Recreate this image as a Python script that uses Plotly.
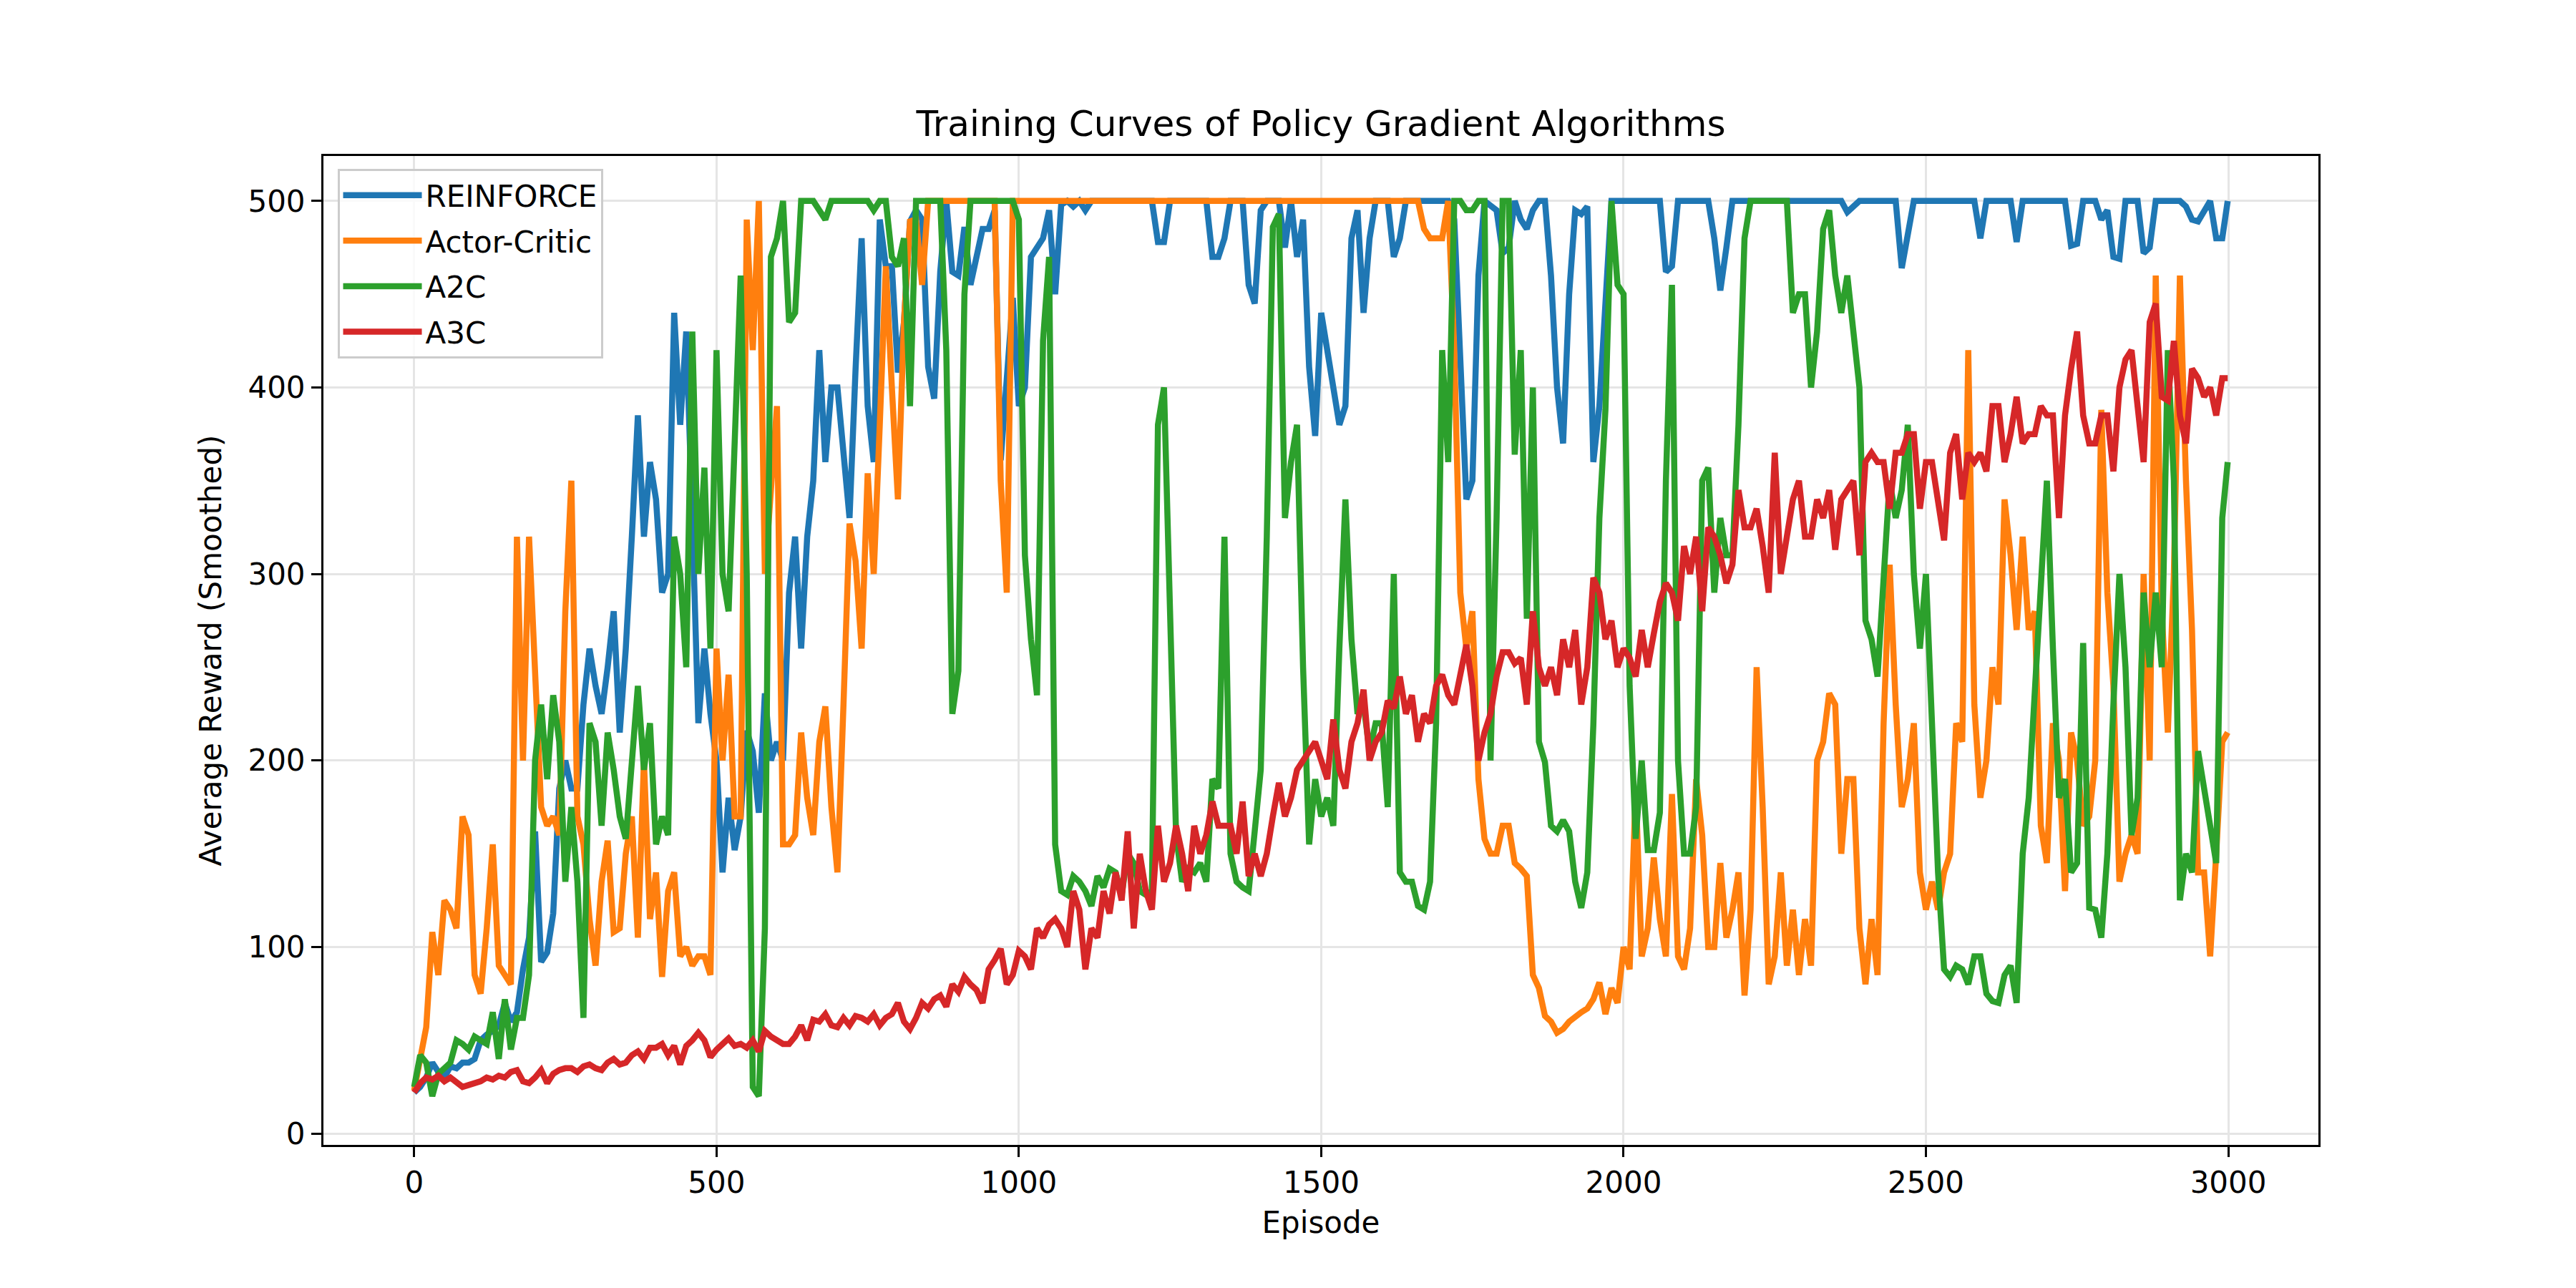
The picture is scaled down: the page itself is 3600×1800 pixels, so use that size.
import plotly.graph_objects as go

episodes = list(range(0, 3000, 10)) + [2999]

reinforce = [
    22, 25, 30, 38, 33, 30, 36, 35, 38, 38, 40, 50, 53, 55, 58, 70, 60, 65, 88, 105, 162, 92, 97, 118, 185, 200,
    185, 185, 230, 260, 240, 225, 250, 280, 215, 260, 320, 385, 320, 360, 340, 290, 300, 440, 380, 430, 330, 220, 260, 225, 200,
    140, 180, 152, 170, 216, 205, 172, 236, 200, 210, 200, 290, 320, 260, 320, 350, 420, 360, 400, 400, 360, 330, 410, 480, 390,
    360, 490, 465, 465, 408, 435, 489, 495, 490, 411, 394, 462, 500, 462, 460, 486, 455, 470, 485, 485, 495, 361, 400, 448, 390,
    400, 470, 475, 480, 495, 450, 498, 500, 497, 500, 495, 500, 500, 500, 500, 500, 500, 500, 500, 500, 500, 500, 478, 478, 500,
    500, 500, 500, 500, 500, 500, 470, 470, 480, 500, 500, 500, 455, 445, 495, 500, 500, 500, 475, 500, 470, 490, 411, 374, 440,
    420, 400, 380, 390, 480, 495, 440, 480, 500, 500, 500, 470, 480, 500, 500, 500, 500, 500, 500, 500, 500, 490, 420, 340, 350,
    460, 500, 497, 495, 472, 475, 500, 490, 485, 495, 500, 500, 460, 400, 370, 450, 495, 493, 497, 360, 390, 450, 500, 500, 500,
    500, 500, 500, 500, 500, 500, 462, 465, 500, 500, 500, 500, 500, 500, 480, 452, 475, 500, 500, 500, 500, 500, 500, 500, 500,
    500, 500, 500, 500, 500, 500, 500, 500, 500, 500, 500, 494, 497, 500, 500, 500, 500, 500, 500, 500, 464, 480, 500, 500, 500,
    500, 500, 500, 500, 500, 500, 500, 500, 480, 500, 500, 500, 500, 500, 478, 500, 500, 500, 500, 500, 500, 500, 500, 476, 477,
    500, 500, 500, 490, 495, 470, 469, 500, 500, 500, 472, 475, 500, 500, 500, 500, 500, 497, 490, 489, 495, 500, 480, 480, 500,
]

actor_critic = [
    23, 40, 57, 108, 85, 125, 120, 110, 170, 160, 85, 75, 110, 155, 90, 85, 80, 320, 200, 320, 240, 175, 165, 170, 160, 280,
    350, 170, 155, 115, 90, 135, 157, 108, 110, 150, 170, 105, 200, 115, 140, 84, 130, 140, 95, 100, 90, 95, 95, 85, 260,
    200, 246, 170, 170, 490, 420, 500, 300, 350, 390, 155, 155, 160, 215, 180, 160, 210, 229, 175, 140, 230, 327, 307, 260, 354,
    300, 380, 465, 400, 340, 435, 489, 490, 455, 500, 500, 500, 500, 500, 500, 500, 500, 500, 500, 500, 500, 350, 290, 500, 500,
    500, 500, 500, 500, 500, 500, 500, 500, 500, 500, 500, 500, 500, 500, 500, 500, 500, 500, 500, 500, 500, 500, 500, 500, 500,
    500, 500, 500, 500, 500, 500, 500, 500, 500, 500, 500, 500, 500, 500, 500, 500, 500, 500, 500, 500, 500, 500, 500, 500, 500,
    500, 500, 500, 500, 500, 500, 500, 500, 500, 500, 500, 500, 500, 500, 500, 500, 485, 480, 480, 480, 500, 420, 290, 260, 280,
    190, 158, 150, 150, 165, 165, 145, 142, 138, 85, 78, 63, 60, 54, 56, 60, 63, 65, 67, 72, 81, 64, 78, 70, 100,
    88, 185, 95, 110, 148, 115, 95, 182, 95, 88, 110, 190, 160, 100, 100, 145, 105, 120, 140, 74, 120, 250, 175, 80, 95,
    140, 90, 120, 85, 115, 90, 200, 210, 236, 230, 150, 190, 190, 110, 80, 115, 85, 220, 305, 230, 175, 190, 220, 140, 120,
    135, 120, 140, 150, 220, 210, 420, 230, 180, 200, 250, 230, 340, 310, 270, 320, 270, 280, 165, 145, 220, 200, 130, 215, 200,
    165, 170, 200, 388, 290, 240, 135, 150, 160, 150, 300, 200, 460, 280, 215, 300, 460, 350, 270, 140, 140, 95, 150, 210, 215,
]

a2c = [
    25, 42, 38, 20, 32, 35, 38, 50, 48, 45, 52, 50, 48, 65, 40, 72, 45, 62, 62, 85, 200, 230, 190, 235, 210, 135,
    175, 135, 62, 220, 210, 165, 215, 195, 170, 158, 195, 240, 195, 220, 155, 170, 160, 320, 300, 250, 430, 300, 357, 260, 420,
    300, 280, 380, 460, 300, 25, 20, 110, 470, 480, 500, 435, 440, 500, 500, 500, 495, 490, 500, 500, 500, 500, 500, 500, 500,
    495, 500, 500, 470, 465, 480, 390, 500, 500, 500, 500, 500, 420, 225, 248, 450, 500, 500, 500, 500, 500, 500, 500, 500, 490,
    310, 265, 235, 425, 470, 155, 130, 128, 138, 135, 130, 122, 138, 132, 142, 140, 128, 150, 145, 130, 128, 130, 380, 400, 290,
    160, 135, 142, 140, 145, 135, 190, 185, 320, 150, 135, 132, 130, 162, 195, 320, 486, 493, 330, 360, 380, 250, 155, 190, 170,
    180, 165, 260, 340, 265, 225, 230, 205, 220, 220, 175, 300, 140, 135, 135, 122, 120, 135, 220, 420, 360, 500, 500, 495, 495,
    500, 500, 200, 330, 500, 500, 364, 420, 276, 400, 210, 199, 165, 162, 168, 162, 135, 121, 140, 219, 330, 388, 500, 455, 450,
    240, 158, 200, 152, 152, 172, 350, 455, 200, 150, 150, 175, 350, 357, 290, 330, 310, 310, 380, 480, 500, 500, 500, 500, 500,
    500, 500, 440, 450, 450, 400, 430, 485, 495, 460, 440, 460, 430, 400, 275, 265, 245, 300, 350, 330, 345, 380, 300, 260, 300,
    220, 140, 88, 84, 90, 88, 80, 95, 95, 75, 71, 70, 85, 90, 70, 150, 180, 240, 287, 350, 260, 180, 190, 140, 145,
    263, 121, 120, 105, 150, 230, 300, 250, 160, 180, 290, 250, 290, 250, 420, 350, 125, 150, 140, 205, 185, 170, 145, 330, 360,
]

a3c = [
    22, 27, 30, 29, 31, 28, 30, 27, 25, 26, 27, 28, 30, 29, 31, 30, 33, 34, 28, 27, 30, 34, 27, 32, 34, 35,
    35, 33, 36, 37, 35, 34, 38, 40, 37, 38, 42, 44, 40, 46, 46, 48, 42, 47, 37, 47, 50, 54, 50, 41, 45,
    48, 51, 47, 48, 46, 50, 44, 55, 52, 50, 48, 48, 52, 58, 50, 61, 60, 64, 58, 57, 62, 58, 63, 62, 60,
    64, 58, 62, 64, 70, 60, 56, 62, 70, 67, 72, 74, 68, 80, 76, 84, 80, 77, 70, 88, 93, 99, 80, 85, 98,
    95, 88, 110, 105, 112, 115, 110, 100, 130, 120, 88, 110, 105, 130, 118, 140, 125, 162, 110, 150, 130, 120, 165, 135, 145,
    165, 150, 130, 165, 150, 160, 178, 165, 165, 165, 150, 178, 138, 150, 138, 150, 170, 188, 170, 180, 195, 200, 205, 210, 200,
    190, 222, 195, 185, 210, 220, 238, 200, 210, 215, 232, 228, 245, 225, 235, 210, 225, 220, 240, 246, 235, 230, 245, 262, 240,
    200, 215, 225, 245, 258, 258, 252, 255, 230, 280, 250, 240, 250, 235, 265, 250, 270, 230, 250, 298, 290, 265, 275, 250, 260,
    255, 245, 270, 250, 268, 285, 295, 290, 275, 315, 300, 320, 280, 325, 320, 310, 295, 305, 345, 325, 325, 335, 315, 290, 365,
    300, 320, 340, 350, 320, 320, 340, 330, 345, 313, 340, 345, 350, 310, 360, 365, 360, 360, 335, 365, 365, 375, 375, 335, 360,
    360, 340, 318, 365, 375, 340, 365, 360, 365, 355, 390, 390, 360, 375, 395, 370, 375, 375, 390, 385, 385, 330, 385, 410, 430,
    385, 370, 370, 385, 385, 355, 400, 415, 420, 390, 360, 435, 445, 395, 393, 425, 385, 370, 410, 405, 395, 400, 385, 405, 405,
]

series_names = ["REINFORCE", "Actor-Critic", "A2C", "A3C"]
series_values = [reinforce, actor_critic, a2c, a3c]
colors = ["#1f77b4", "#ff7f0e", "#2ca02c", "#d62728"]

x_ticks = [0, 500, 1000, 1500, 2000, 2500, 3000]
y_ticks = [0, 100, 200, 300, 400, 500]

FONT = "DejaVu Sans"

fig = go.Figure()
for name, vals, col in zip(series_names, series_values, colors):
    fig.add_trace(go.Scatter(
        x=episodes, y=vals, mode="lines", name=name, legendgroup=name,
        line=dict(color=col, width=8.5),
    ))

axis_common = dict(
    showline=True, linecolor="black", linewidth=3, mirror=True,
    ticks="outside", ticklen=14, tickwidth=3, tickcolor="black",
    showgrid=True, gridcolor="#e5e5e5", gridwidth=3,
    zeroline=False,
    tickfont=dict(family=FONT, size=42, color="black"),
)

fig.update_layout(
    width=3600, height=1800,
    paper_bgcolor="white", plot_bgcolor="white",
    margin=dict(l=452, r=360, t=218, b=200),
    font=dict(family=FONT, color="black"),
    title=dict(
        text="Training Curves of Policy Gradient Algorithms",
        x=0.5, xref="paper", xanchor="center",
        y=0.904, yref="container", yanchor="middle",
        font=dict(family=FONT, size=50, color="black"),
    ),
    xaxis=dict(
        range=[-150, 3149], tickvals=x_ticks, ticktext=[str(v) for v in x_ticks],
        title=dict(text="Episode", font=dict(family=FONT, size=42, color="black"), standoff=18),
        **axis_common,
    ),
    yaxis=dict(
        range=[-6.1, 524.1], tickvals=y_ticks, ticktext=[str(v) for v in y_ticks],
        title=dict(text="Average Reward (Smoothed)", font=dict(family=FONT, size=42, color="black"), standoff=24),
        **axis_common,
    ),
    legend=dict(
        x=0.007, y=0.987, xanchor="left", yanchor="top",
        bgcolor="rgba(255,255,255,0.8)", bordercolor="#cccccc", borderwidth=3,
        font=dict(family=FONT, size=42, color="black"),
        itemwidth=110, tracegroupgap=6,
    ),
    showlegend=True,
)

fig.write_html("out.html")
